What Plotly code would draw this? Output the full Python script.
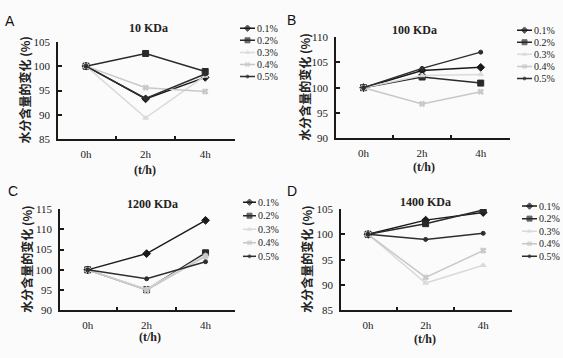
import plotly.graph_objects as go

W, H = 563, 358

times = ["0h", "2h", "4h"]
series_names = ["0.1%", "0.2%", "0.3%", "0.4%", "0.5%"]
panel_titles = ["10 KDa", "100 KDa", "1200 KDa", "1400 KDa"]
panel_letters = ["A", "B", "C", "D"]
y_title = "水分含量的变化 (%)"
x_title = "(t/h)"

# values: one list per concentration, per panel
kda10 = [
    [100, 93.3, 97.7],   # 0.1%
    [100, 102.6, 98.9],  # 0.2%
    [100, 89.4, 98.0],   # 0.3%
    [100, 95.6, 94.8],   # 0.4%
    [100, 93.4, 98.4],   # 0.5%
]
kda100 = [
    [100, 103.4, 104.0],
    [100, 102.1, 100.9],
    [100, 102.4, 102.6],
    [100, 96.8, 99.2],
    [100, 103.8, 107.0],
]
kda1200 = [
    [100, 104.0, 112.2],
    [100, 95.1, 104.2],
    [100, 95.3, 103.6],
    [100, 95.0, 103.3],
    [100, 97.8, 102.0],
]
kda1400 = [
    [100, 102.8, 104.3],
    [100, 102.1, 104.8],
    [100, 90.4, 93.9],
    [100, 91.5, 96.8],
    [100, 99.0, 100.2],
]
yticks10 = [85, 90, 95, 100, 105]
yticks100 = [90, 95, 100, 105, 110]
yticks1200 = [90, 95, 100, 105, 110, 115]
yticks1400 = [85, 90, 95, 100, 105]

panel_values = [kda10, kda100, kda1200, kda1400]
panel_yticks = [yticks10, yticks100, yticks1200, yticks1400]

colors = ["#1a1a1a", "#2a2a2a", "#dadada", "#c8c8c8", "#2e2e2e"]
symbols = ["diamond", "square", "triangle-up", "x", "circle"]
msizes = [6, 6, 5, 5, 4]

SERIF = "Liberation Serif"
CJK = "Noto Sans CJK SC"
TXT = "#222222"

# geometry in pixels: plot box, legend box, text anchors
geo = [
    dict(x0=58, x1=235, y0=37, y1=138, lx0=240, lx1=255, ly0=23, ly1=73,
         title=(148, 23), letter=(10, 16), xt=(145, 170), yt=25),
    dict(x0=336, x1=510, y0=32, y1=137, lx0=517, lx1=532, ly0=25, ly1=75,
         title=(414, 25), letter=(291, 15), xt=(424, 167), yt=305),
    dict(x0=60, x1=235, y0=210, y1=315, lx0=243, lx1=256, ly0=203, ly1=259,
         title=(152, 205), letter=(13, 191), xt=(150, 342), yt=27),
    dict(x0=341, x1=512, y0=210, y1=315, lx0=522, lx1=537, ly0=207, ly1=259,
         title=(425, 203), letter=(292, 191), xt=(425, 345), yt=307),
]


def px(x):
    return x / W


def py(y):
    return 1 - y / H


fig = go.Figure()
layout = dict(
    width=W, height=H, autosize=False,
    margin=dict(l=0, r=0, t=0, b=0),
    paper_bgcolor="#fbfbfb", plot_bgcolor="rgba(0,0,0,0)",
    showlegend=False,
    font=dict(family=SERIF, size=10, color=TXT),
)
annotations = []

for p in range(4):
    g = geo[p]
    ax = p + 1
    lax = p + 5
    xa = "x" if ax == 1 else f"x{ax}"
    ya = "y" if ax == 1 else f"y{ax}"
    lxa = f"x{lax}"
    lya = f"y{lax}"
    yt = panel_yticks[p]

    for i, name in enumerate(series_names):
        fig.add_trace(go.Scatter(
            x=times, y=panel_values[p][i], name=name, mode="lines+markers",
            line=dict(color=colors[i], width=1.5),
            marker=dict(symbol=symbols[i], size=msizes[i], color=colors[i],
                        line=dict(color=colors[i], width=1)),
            xaxis=xa, yaxis=ya,
        ))
        # legend sample
        fig.add_trace(go.Scatter(
            x=[0, 0.5, 1], y=[i, i, i], mode="lines+markers",
            line=dict(color=colors[i], width=1.5),
            marker=dict(symbol=symbols[i], size=[0, msizes[i] - 1, 0],
                        color=colors[i], line=dict(color=colors[i], width=1)),
            xaxis=lxa, yaxis=lya, hoverinfo="skip",
        ))
        annotations.append(dict(
            x=1, y=i, xref=lxa, yref=lya, text=name, showarrow=False,
            xanchor="left", yanchor="middle", xshift=0,
            font=dict(family=SERIF, size=10, color=TXT),
        ))

    layout[f"xaxis{ax}"] = dict(
        domain=[px(g["x0"]), px(g["x1"])], anchor=ya,
        type="category", categoryorder="array", categoryarray=times,
        range=[-0.47, 2.5], tickson="boundaries",
        showline=True, linecolor="#1a1a1a", linewidth=1.5,
        ticks="inside", ticklen=4, tickwidth=1.5, tickcolor="#1a1a1a",
        showgrid=False, zeroline=False, ticklabelstandoff=4,
        tickfont=dict(family=SERIF, size=11, color=TXT),
    )
    layout[f"yaxis{ax}"] = dict(
        domain=[py(g["y1"]), py(g["y0"])], anchor=xa,
        range=[yt[0], yt[-1]], tickvals=yt,
        showline=True, linecolor="#1a1a1a", linewidth=1.5,
        ticks="inside", ticklen=4, tickwidth=1.5, tickcolor="#1a1a1a",
        showgrid=False, zeroline=False, ticklabelstandoff=4,
        tickfont=dict(family=SERIF, size=11, color=TXT),
    )
    step = (g["ly1"] - g["ly0"]) / 4
    layout[f"xaxis{lax}"] = dict(
        domain=[px(g["lx0"]), px(g["lx1"])], anchor=lya, range=[0, 1],
        visible=False, fixedrange=True,
    )
    layout[f"yaxis{lax}"] = dict(
        domain=[py(g["ly1"] + step / 2), py(g["ly0"] - step / 2)], anchor=lxa,
        range=[4.5, -0.5], visible=False, fixedrange=True,
    )

    annotations.append(dict(
        x=px(g["title"][0]), y=py(g["title"][1]), xref="paper", yref="paper",
        text=f"<b>{panel_titles[p]}</b>", showarrow=False,
        xanchor="center", yanchor="middle",
        font=dict(family=SERIF, size=12, color=TXT),
    ))
    annotations.append(dict(
        x=px(g["letter"][0]), y=py(g["letter"][1]), xref="paper", yref="paper",
        text=panel_letters[p], showarrow=False,
        xanchor="center", yanchor="middle",
        font=dict(family="Liberation Sans", size=14, color="#111"),
    ))
    annotations.append(dict(
        x=px(g["xt"][0]), y=py(g["xt"][1]), xref="paper", yref="paper",
        text=f"<b>{x_title}</b>", showarrow=False,
        xanchor="center", yanchor="middle",
        font=dict(family=SERIF, size=12, color=TXT),
    ))
    annotations.append(dict(
        x=px(g["yt"]), y=py((g["y0"] + g["y1"]) / 2), xref="paper", yref="paper",
        text=f"<b>{y_title}</b>", showarrow=False, textangle=-90,
        xanchor="center", yanchor="middle",
        font=dict(family=CJK, size=12, color=TXT),
    ))

layout["annotations"] = annotations
fig.update_layout(**layout)

fig.write_html(
    "out.html",
    config={"displayModeBar": False},
    post_script="document.body.style.margin='0';document.body.style.overflow='hidden';",
)
